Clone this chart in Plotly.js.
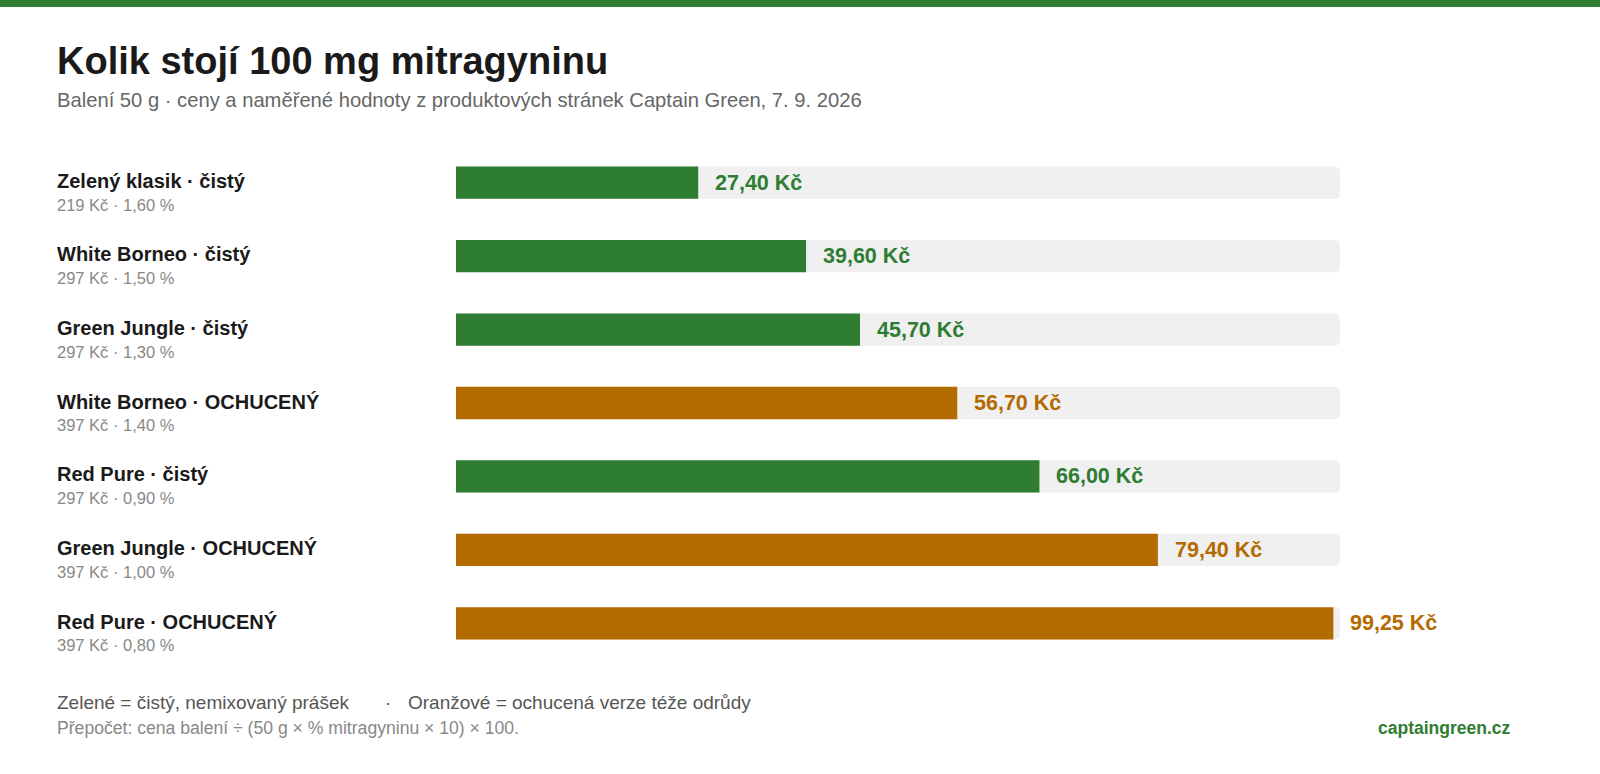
<!DOCTYPE html>
<html>
<head>
<meta charset="utf-8">
<script src="https://cdn.plot.ly/plotly-3.0.1.min.js"></script>
<style>html,body{margin:0;padding:0;background:#fff;}#chart{width:1600px;height:774px;}</style>
</head>
<body>
<div id="chart"></div>
<script>
const products = ["Zelený klasik", "White Borneo", "Green Jungle", "White Borneo", "Red Pure", "Green Jungle", "Red Pure"];
const variants = ["čistý", "čistý", "čistý", "OCHUCENÝ", "čistý", "OCHUCENÝ", "OCHUCENÝ"];
const prices = [219, 297, 297, 397, 297, 397, 397];
const percents = [1.60, 1.50, 1.30, 1.40, 0.90, 1.00, 0.80];
const costPer100mg = [27.40, 39.60, 45.70, 56.70, 66.00, 79.40, 99.25];
const trackMax = 100;

const GREEN = "#2e7d32", ORANGE = "#b36b00", TRACK = "#f0f0f0";
const FONT = "'Liberation Sans', Arial, Helvetica, sans-serif";

const W = 1600, H = 774;
const L = 456, R = 260, T = 146, B = 114;
const PW = W - L - R, PH = H - T - B;
const px = x => (x - L) / PW;
const py = y => 1 - (y - T) / PH;

const cats = products.map((p, i) => p + " · " + variants[i] + "#" + i);
const colors = variants.map(v => v === "čistý" ? GREEN : ORANGE);
const fmt = (v, d) => v.toFixed(d).replace(".", ",");

const traces = [
  {type: "bar", orientation: "h", y: cats, x: cats.map(() => trackMax),
   marker: {color: TRACK, cornerradius: 5}, width: 0.44, hoverinfo: "skip"},
  {type: "bar", orientation: "h", y: cats, x: costPer100mg,
   marker: {color: colors, cornerradius: 5}, width: 0.44, hoverinfo: "skip"}
];

const ann = [];
const A = (o) => ann.push(Object.assign({showarrow: false, xref: "paper", yref: "paper"}, o));

A({x: px(55), y: py(61), xanchor: "left", yanchor: "middle",
   text: "<b>Kolik stojí 100 mg mitragyninu</b>", font: {family: FONT, size: 38, color: "#1a1a1a"}});
A({x: px(55), y: py(100), xanchor: "left", yanchor: "middle",
   text: "Balení 50 g · ceny a naměřené hodnoty z produktových stránek Captain Green, 7. 9. 2026",
   font: {family: FONT, size: 20.2, color: "#666"}});

cats.forEach((c, i) => {
  A({x: px(55), yref: "y", y: c, yshift: 2, xanchor: "left", yanchor: "middle",
     text: "<b>" + products[i] + " · " + variants[i] + "</b>", font: {family: FONT, size: 20, color: "#1a1a1a"}});
  A({x: px(55), yref: "y", y: c, yshift: -22, xanchor: "left", yanchor: "middle",
     text: prices[i] + " Kč · " + fmt(percents[i], 2) + " %", font: {family: FONT, size: 16.5, color: "#888"}});
  A({xref: "x", x: costPer100mg[i], yref: "y", y: c, xshift: 15, xanchor: "left", yanchor: "middle",
     text: "<b>" + fmt(costPer100mg[i], 2) + " Kč</b>", font: {family: FONT, size: 21.5, color: colors[i]}});
});

A({x: px(55), y: py(702), xanchor: "left", yanchor: "middle",
   text: "Zelené = čistý, nemixovaný prášek", font: {family: FONT, size: 19, color: "#555"}});
A({x: px(388), y: py(702), xanchor: "center", yanchor: "middle",
   text: "·", font: {family: FONT, size: 19, color: "#555"}});
A({x: px(406), y: py(702), xanchor: "left", yanchor: "middle",
   text: "Oranžové = ochucená verze téže odrůdy", font: {family: FONT, size: 19, color: "#555"}});
A({x: px(55), y: py(728), xanchor: "left", yanchor: "middle",
   text: "Přepočet: cena balení ÷ (50 g × % mitragyninu × 10) × 100.", font: {family: FONT, size: 17.6, color: "#888"}});
A({x: px(1513), y: py(728), xanchor: "right", yanchor: "middle",
   text: "<b>captaingreen.cz</b>", font: {family: FONT, size: 17.5, color: GREEN}});

const layout = {
  width: W, height: H,
  margin: {l: L, r: R, t: T, b: B, pad: 0},
  paper_bgcolor: "#fff", plot_bgcolor: "#fff",
  barmode: "overlay", showlegend: false, hovermode: false,
  xaxis: {range: [0, trackMax], visible: false, fixedrange: true},
  yaxis: {autorange: "reversed", visible: false, fixedrange: true, type: "category"},
  annotations: ann,
  shapes: [{type: "rect", xref: "paper", yref: "paper", x0: px(0), x1: px(W), y0: py(0), y1: py(7),
            fillcolor: GREEN, line: {width: 0}, layer: "above"}],
  font: {family: FONT}
};

Plotly.newPlot("chart", traces, layout, {displayModeBar: false, staticPlot: true});
</script>
</body>
</html>
